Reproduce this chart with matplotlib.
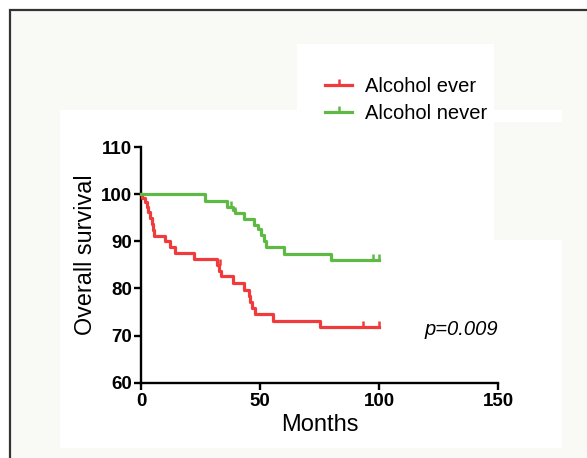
import matplotlib
matplotlib.use("Agg")
import matplotlib.pyplot as plt
from matplotlib.patches import Rectangle
from matplotlib.lines import Line2D
from matplotlib.path import Path

# ---- data ----
ever_times = [0, 0.3, 1.5, 2.3, 3.0, 3.8, 4.3, 4.8, 5.4, 9.8, 11.9, 14.0, 22.2,
              32.0, 32.8, 33.6, 38.6, 43.3, 45.4, 45.9, 46.4, 47.9, 55.5, 75.1, 100]
ever_surv = [100, 99.2, 98.4, 97.4, 96.3, 95.0, 93.6, 92.4, 91.2, 90.1, 88.9, 87.6, 86.2,
             84.9, 83.7, 82.6, 81.1, 79.7, 78.5, 77.2, 75.8, 74.5, 73.1, 71.8, 71.8]
ever_cens_t = [33.2, 93.1, 100]
ever_cens_s = [84.9, 71.8, 71.8]

never_times = [0, 26.7, 36.2, 38.5, 39.2, 43.3, 47.5, 49.0, 50.5, 51.8, 52.6, 60.2, 79.6, 100]
never_surv = [100, 98.6, 97.3, 96.7, 96.0, 94.7, 93.4, 92.6, 91.3, 90.0, 88.8, 87.4, 86.1, 86.1]
never_cens_t = [37.9, 39.6, 97.5, 100]
never_cens_s = [97.3, 96.0, 86.1, 86.1]

labels = ["Alcohol ever", "Alcohol never"]
x_ticks = [0, 50, 100, 150]
y_ticks = [60, 70, 80, 90, 100, 110]
p_text = "p=0.009"

RED = "#ef3b3b"
GREEN = "#5fba45"

W, H = 587, 458
fig = plt.figure(figsize=(W / 100, H / 100), dpi=100, facecolor="white")
plt.rcParams["font.family"] = ["Liberation Sans", "DejaVu Sans"]


def fx(px):
    return px / W


def fy(py):
    return 1 - py / H


def rect(x0, y0, x1, y1, fc, ec="none", lw=0, z=-10):
    r = Rectangle((fx(x0), fy(y1)), fx(x1) - fx(x0), fy(y0) - fy(y1),
                  transform=fig.transFigure, facecolor=fc, edgecolor=ec,
                  linewidth=lw, zorder=z)
    fig.add_artist(r)


# background frame and white panels
rect(9.5, 9.5, 700, 600, "#f9f9f6", ec="#333333", lw=1.6, z=-12)
rect(60, 110, 562, 448, "white", z=-11)
rect(494, 122, 562, 240, "#f9f9f6", z=-10)
rect(297, 44, 494, 240, "white", z=-10)

ax = fig.add_axes([fx(141.3), fy(382.7), fx(498) - fx(141.3), fy(147.2) - fy(382.7)])
ax.set_facecolor("none")

tick_marker = Path([[0, 0], [0, 1]])
LW = 2.3

ax.step(ever_times, ever_surv, where="post", color=RED, lw=LW, clip_on=False, zorder=3)
ax.step(never_times, never_surv, where="post", color=GREEN, lw=LW, clip_on=False, zorder=3)
ax.plot(ever_cens_t, ever_cens_s, linestyle="none", marker=tick_marker, markersize=9,
        markeredgewidth=1.8, color=RED, clip_on=False, zorder=3)
ax.plot(never_cens_t, never_cens_s, linestyle="none", marker=tick_marker, markersize=9,
        markeredgewidth=1.8, color=GREEN, clip_on=False, zorder=3)

ax.set_xlim(0, 150)
ax.set_ylim(60, 110)
ax.set_xticks(x_ticks)
ax.set_yticks(y_ticks)
for s in ["top", "right"]:
    ax.spines[s].set_visible(False)
for s in ["left", "bottom"]:
    ax.spines[s].set_linewidth(1.7)
    ax.spines[s].set_color("black")
ax.tick_params(axis="both", length=5, width=1.7, labelsize=13.5, pad=1.5, colors="black")
ax.tick_params(axis="x", pad=2.5)
for lab in ax.get_xticklabels() + ax.get_yticklabels():
    lab.set_fontweight("bold")

ax.set_xlabel("Months", fontsize=17, labelpad=3)
fig.text(fx(85), fy(255), "Overall survival", rotation=90, fontsize=16.8,
         ha="center", va="center")

ax.text(0.896, 0.224, p_text, transform=ax.transAxes, fontsize=14.5, style="italic",
        ha="center", va="center")

handles = [
    Line2D([], [], color=RED, lw=LW, marker=tick_marker, markersize=9, markeredgewidth=1.8),
    Line2D([], [], color=GREEN, lw=LW, marker=tick_marker, markersize=9, markeredgewidth=1.8),
]
leg = ax.legend(handles, labels, loc="upper left", bbox_to_anchor=(fx(325), fy(77)),
                bbox_transform=fig.transFigure, frameon=False, fontsize=14.5,
                handlelength=1.35, handletextpad=0.65, labelspacing=0.42,
                numpoints=1, borderaxespad=0, borderpad=0)

fig.savefig("out.png", dpi=100, facecolor=fig.get_facecolor())
